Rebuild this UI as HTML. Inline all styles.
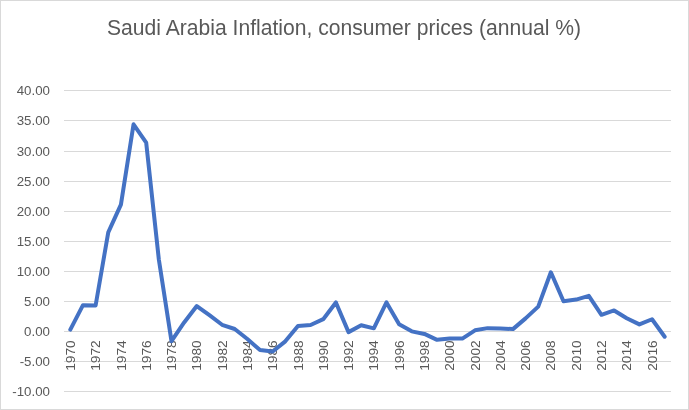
<!DOCTYPE html>
<html><head><meta charset="utf-8"><style>
html,body{margin:0;padding:0;background:#fff;}
body{width:689px;height:410px;overflow:hidden;position:relative;}
svg{position:absolute;left:0;top:0;will-change:transform;}
text{font-family:"Liberation Sans",sans-serif;fill:#595959;}
</style></head><body>
<svg width="689" height="410" viewBox="0 0 689 410">
<rect x="0.5" y="0.5" width="688" height="409" fill="#fff" stroke="#d9d9d9" stroke-width="1"/>

<line x1="64.0" y1="90.5" x2="671.0" y2="90.5" stroke="#d9d9d9" stroke-width="1"/>
<line x1="64.0" y1="120.5" x2="671.0" y2="120.5" stroke="#d9d9d9" stroke-width="1"/>
<line x1="64.0" y1="151.5" x2="671.0" y2="151.5" stroke="#d9d9d9" stroke-width="1"/>
<line x1="64.0" y1="181.5" x2="671.0" y2="181.5" stroke="#d9d9d9" stroke-width="1"/>
<line x1="64.0" y1="211.5" x2="671.0" y2="211.5" stroke="#d9d9d9" stroke-width="1"/>
<line x1="64.0" y1="241.5" x2="671.0" y2="241.5" stroke="#d9d9d9" stroke-width="1"/>
<line x1="64.0" y1="271.5" x2="671.0" y2="271.5" stroke="#d9d9d9" stroke-width="1"/>
<line x1="64.0" y1="301.5" x2="671.0" y2="301.5" stroke="#d9d9d9" stroke-width="1"/>
<line x1="64.0" y1="331.5" x2="671.0" y2="331.5" stroke="#d9d9d9" stroke-width="1"/>
<line x1="64.0" y1="361.5" x2="671.0" y2="361.5" stroke="#d9d9d9" stroke-width="1"/>
<line x1="64.0" y1="391.5" x2="671.0" y2="391.5" stroke="#d9d9d9" stroke-width="1"/>
<text x="50" y="95.1" font-size="13.3" text-anchor="end">40.00</text>
<text x="50" y="125.1" font-size="13.3" text-anchor="end">35.00</text>
<text x="50" y="156.1" font-size="13.3" text-anchor="end">30.00</text>
<text x="50" y="186.1" font-size="13.3" text-anchor="end">25.00</text>
<text x="50" y="216.1" font-size="13.3" text-anchor="end">20.00</text>
<text x="50" y="246.1" font-size="13.3" text-anchor="end">15.00</text>
<text x="50" y="276.1" font-size="13.3" text-anchor="end">10.00</text>
<text x="50" y="306.1" font-size="13.3" text-anchor="end">5.00</text>
<text x="50" y="336.1" font-size="13.3" text-anchor="end">0.00</text>
<text x="50" y="366.1" font-size="13.3" text-anchor="end">-5.00</text>
<text x="50" y="396.1" font-size="13.3" text-anchor="end">-10.00</text>
<text transform="translate(74.92,340.3) rotate(-90)" font-size="13.3" text-anchor="end" textLength="30.5" lengthAdjust="spacingAndGlyphs">1970</text>
<text transform="translate(100.21,340.3) rotate(-90)" font-size="13.3" text-anchor="end" textLength="30.5" lengthAdjust="spacingAndGlyphs">1972</text>
<text transform="translate(125.51,340.3) rotate(-90)" font-size="13.3" text-anchor="end" textLength="30.5" lengthAdjust="spacingAndGlyphs">1974</text>
<text transform="translate(150.80,340.3) rotate(-90)" font-size="13.3" text-anchor="end" textLength="30.5" lengthAdjust="spacingAndGlyphs">1976</text>
<text transform="translate(176.09,340.3) rotate(-90)" font-size="13.3" text-anchor="end" textLength="30.5" lengthAdjust="spacingAndGlyphs">1978</text>
<text transform="translate(201.38,340.3) rotate(-90)" font-size="13.3" text-anchor="end" textLength="30.5" lengthAdjust="spacingAndGlyphs">1980</text>
<text transform="translate(226.67,340.3) rotate(-90)" font-size="13.3" text-anchor="end" textLength="30.5" lengthAdjust="spacingAndGlyphs">1982</text>
<text transform="translate(251.96,340.3) rotate(-90)" font-size="13.3" text-anchor="end" textLength="30.5" lengthAdjust="spacingAndGlyphs">1984</text>
<text transform="translate(277.26,340.3) rotate(-90)" font-size="13.3" text-anchor="end" textLength="30.5" lengthAdjust="spacingAndGlyphs">1986</text>
<text transform="translate(302.55,340.3) rotate(-90)" font-size="13.3" text-anchor="end" textLength="30.5" lengthAdjust="spacingAndGlyphs">1988</text>
<text transform="translate(327.84,340.3) rotate(-90)" font-size="13.3" text-anchor="end" textLength="30.5" lengthAdjust="spacingAndGlyphs">1990</text>
<text transform="translate(353.13,340.3) rotate(-90)" font-size="13.3" text-anchor="end" textLength="30.5" lengthAdjust="spacingAndGlyphs">1992</text>
<text transform="translate(378.42,340.3) rotate(-90)" font-size="13.3" text-anchor="end" textLength="30.5" lengthAdjust="spacingAndGlyphs">1994</text>
<text transform="translate(403.71,340.3) rotate(-90)" font-size="13.3" text-anchor="end" textLength="30.5" lengthAdjust="spacingAndGlyphs">1996</text>
<text transform="translate(429.01,340.3) rotate(-90)" font-size="13.3" text-anchor="end" textLength="30.5" lengthAdjust="spacingAndGlyphs">1998</text>
<text transform="translate(454.30,340.3) rotate(-90)" font-size="13.3" text-anchor="end" textLength="30.5" lengthAdjust="spacingAndGlyphs">2000</text>
<text transform="translate(479.59,340.3) rotate(-90)" font-size="13.3" text-anchor="end" textLength="30.5" lengthAdjust="spacingAndGlyphs">2002</text>
<text transform="translate(504.88,340.3) rotate(-90)" font-size="13.3" text-anchor="end" textLength="30.5" lengthAdjust="spacingAndGlyphs">2004</text>
<text transform="translate(530.17,340.3) rotate(-90)" font-size="13.3" text-anchor="end" textLength="30.5" lengthAdjust="spacingAndGlyphs">2006</text>
<text transform="translate(555.46,340.3) rotate(-90)" font-size="13.3" text-anchor="end" textLength="30.5" lengthAdjust="spacingAndGlyphs">2008</text>
<text transform="translate(580.76,340.3) rotate(-90)" font-size="13.3" text-anchor="end" textLength="30.5" lengthAdjust="spacingAndGlyphs">2010</text>
<text transform="translate(606.05,340.3) rotate(-90)" font-size="13.3" text-anchor="end" textLength="30.5" lengthAdjust="spacingAndGlyphs">2012</text>
<text transform="translate(631.34,340.3) rotate(-90)" font-size="13.3" text-anchor="end" textLength="30.5" lengthAdjust="spacingAndGlyphs">2014</text>
<text transform="translate(656.63,340.3) rotate(-90)" font-size="13.3" text-anchor="end" textLength="30.5" lengthAdjust="spacingAndGlyphs">2016</text>
<text x="344" y="34.6" font-size="21.5" text-anchor="middle" textLength="474" lengthAdjust="spacingAndGlyphs" id="title">Saudi Arabia Inflation, consumer prices (annual %)</text>
<polyline points="70.32,329.59 82.97,305.15 95.61,305.51 108.26,232.31 120.91,204.68 133.55,124.31 146.20,142.67 158.84,259.46 171.49,341.15 184.14,322.49 196.78,306.05 209.43,315.21 222.07,324.78 234.72,328.99 247.36,339.04 260.01,350.06 272.66,351.57 285.30,341.33 297.95,325.98 310.59,324.96 323.24,319.18 335.89,302.44 348.53,332.12 361.18,325.32 373.82,328.33 386.47,302.38 399.11,324.36 411.76,331.34 424.41,333.93 437.05,339.83 449.70,338.56 462.34,338.56 474.99,330.32 487.64,328.15 500.28,328.39 512.93,329.11 525.57,318.40 538.22,306.60 550.86,272.28 563.51,301.24 576.16,299.55 588.80,295.88 601.45,314.84 614.09,310.45 626.74,318.22 639.39,324.42 652.03,319.24 664.68,336.76" fill="none" stroke="#4472c4" stroke-width="4" stroke-linejoin="round" stroke-linecap="round"/>
</svg>
</body></html>
